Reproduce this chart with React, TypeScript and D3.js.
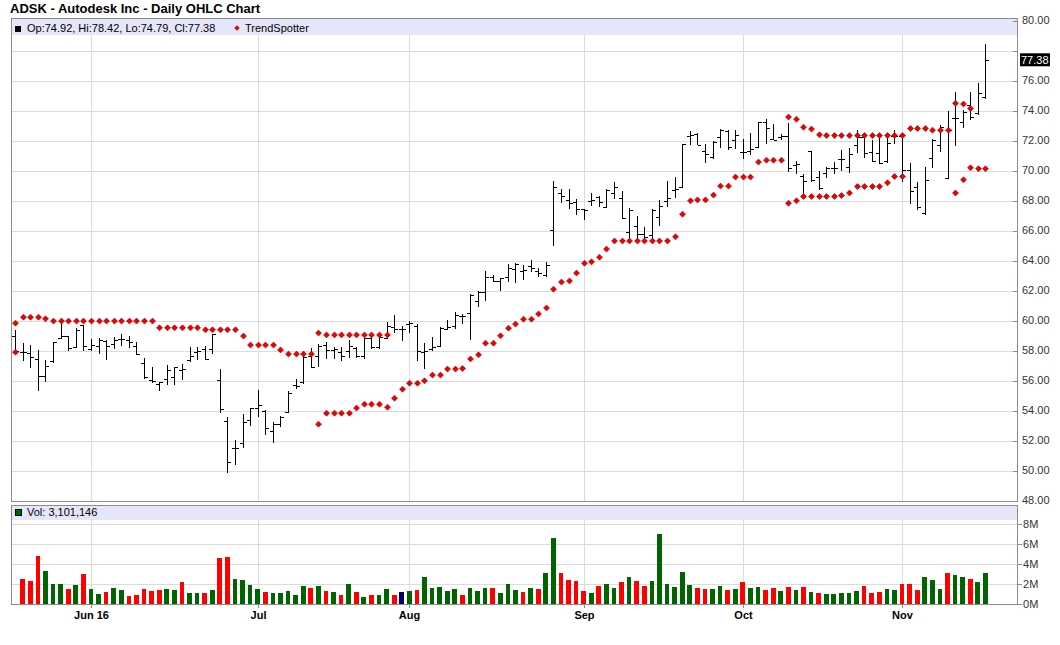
import * as d3 from "d3";

// ADSK daily bars, index 0 = first bar on the chart (mid May 2016)
const opens = [
  58.96, 57.93, 57.84, 57.44, 56.27, 57.27, 58.82, 58.96, 58.22, 59.67,
  58.07, 58.33, 58.6, 58.44, 58.78, 58.73, 58.33, 57.18, 56.02, 55.78,
  56.07, 56.22, 56.73, 57.4, 57.89, 58.07, 58.07, 56.04, 53.33, 51.49,
  51.84, 53.4, 54.16, 53.98, 52.6, 53.11, 53.89, 55.71, 55.89, 57.62,
  57.62, 58.4, 58.04, 57.89, 57.96, 58.18, 57.62, 58.82, 58.22, 58.84,
  59.56, 59.44, 59.78, 59.62, 57.89, 58.11, 58.33, 59.44, 59.6, 60.33,
  60.49, 61.33, 61.93, 62.93, 62.6, 62.93, 63.42, 63.33, 63.64, 63.27,
  63.04, 66.04, 68.49, 68.04, 67.87, 67.42, 68.0, 68.2, 67.56, 68.49,
  68.16, 65.93, 66.27, 65.78, 65.71, 66.93, 68.0, 68.71, 68.89, 72.31,
  72.42, 71.31, 70.93, 72.22, 72.64, 72.04, 71.2, 71.33, 71.6, 73.2,
  72.1, 72.22, 72.31, 70.38, 69.64, 71.27, 69.56, 69.83, 70.16, 70.79,
  70.23, 71.73, 72.24, 71.23, 71.17, 70.63, 72.29, 72.29, 70.05, 68.89,
  67.14, 70.83, 71.73, 69.49, 73.47, 73.2, 74.37, 73.81, 74.92,
];
const highs = [
  59.33, 58.44, 58.33, 58.0, 57.33, 58.56, 60.0, 58.96, 59.44, 59.67,
  58.73, 58.82, 58.67, 58.89, 59.04, 58.93, 58.56, 57.49, 56.89, 55.89,
  57.0, 56.89, 57.04, 58.22, 58.22, 58.29, 59.1, 56.71, 53.56, 52.0,
  53.71, 54.16, 55.31, 53.98, 53.18, 53.62, 55.27, 56.04, 57.6, 58.11,
  58.38, 58.51, 58.22, 58.18, 58.67, 58.18, 58.82, 58.89, 59.11, 59.84,
  60.33, 59.62, 59.93, 59.71, 58.44, 58.89, 59.56, 60.0, 60.55, 60.38,
  61.76, 61.93, 63.27, 62.98, 62.82, 63.71, 63.82, 63.64, 63.98, 63.49,
  63.87, 69.27, 68.71, 68.76, 68.04, 67.42, 68.49, 68.27, 68.76, 69.2,
  68.6, 67.49, 66.93, 66.2, 67.42, 68.0, 69.27, 69.56, 71.76, 72.6,
  72.49, 71.71, 71.93, 72.71, 72.64, 72.67, 72.09, 72.49, 73.2, 73.42,
  73.04, 72.38, 73.11, 70.6, 69.71, 71.27, 69.93, 70.23, 70.56, 71.35,
  71.46, 72.69, 72.35, 72.02, 72.31, 72.13, 72.69, 72.4, 70.45, 69.22,
  70.23, 72.06, 73.02, 73.96, 75.22, 74.03, 75.22, 75.78, 78.42,
];
const lows = [
  57.89, 57.33, 56.89, 55.33, 55.93, 57.22, 58.82, 58.0, 58.22, 58.0,
  58.0, 57.78, 57.4, 58.16, 58.33, 58.22, 57.71, 56.16, 55.84, 55.33,
  55.71, 55.71, 56.07, 57.27, 57.4, 57.4, 57.78, 53.89, 49.84, 50.4,
  51.56, 53.0, 53.62, 52.38, 51.89, 52.96, 53.84, 55.49, 55.78, 56.84,
  56.96, 57.44, 57.44, 57.33, 57.56, 57.56, 57.49, 58.11, 58.11, 58.84,
  59.18, 58.67, 59.22, 57.33, 56.82, 58.0, 58.29, 59.4, 59.45, 59.82,
  58.71, 60.93, 61.33, 62.6, 61.98, 62.6, 62.53, 62.71, 63.27, 62.93,
  62.93, 64.98, 67.87, 67.49, 67.04, 66.76, 67.64, 67.6, 67.56, 68.16,
  66.82, 65.27, 65.27, 65.3, 65.33, 66.31, 67.6, 68.22, 68.89, 71.76,
  71.71, 70.56, 70.82, 71.56, 71.42, 71.49, 70.82, 71.04, 71.6, 71.78,
  72.04, 72.04, 69.93, 69.78, 68.27, 69.27, 68.76, 69.56, 69.78, 70.0,
  69.9, 71.17, 70.9, 70.61, 70.45, 70.56, 71.79, 69.29, 67.81, 67.43,
  67.1, 70.23, 71.3, 69.45, 71.64, 72.87, 73.4, 73.76, 74.79,
];
const closes = [
  57.95, 57.89, 57.56, 56.27, 57.0, 58.56, 58.96, 58.16, 59.4, 58.33,
  58.4, 58.73, 58.33, 58.73, 58.76, 58.56, 57.78, 56.2, 55.98, 55.89,
  56.73, 56.89, 56.78, 57.62, 58.0, 57.44, 59.1, 54.1, 50.56, 51.49,
  53.22, 54.16, 54.38, 52.82, 53.11, 53.58, 55.18, 55.62, 57.56, 56.89,
  58.29, 58.04, 58.1, 57.62, 58.29, 57.62, 58.82, 58.22, 58.89, 59.62,
  59.44, 59.44, 59.84, 57.96, 58.0, 58.22, 59.49, 59.56, 60.4, 60.33,
  61.71, 61.87, 62.93, 62.64, 62.82, 63.49, 63.78, 63.38, 63.49, 63.16,
  63.69, 68.93, 68.27, 67.82, 67.42, 67.38, 68.04, 67.9, 68.71, 68.93,
  66.82, 67.38, 65.78, 65.6, 67.38, 67.64, 68.16, 68.78, 71.76, 72.38,
  71.71, 71.11, 71.93, 72.67, 71.6, 72.38, 71.2, 71.42, 73.2, 72.82,
  72.04, 72.29, 70.16, 70.44, 69.31, 69.38, 68.82, 70.18, 70.16, 70.79,
  71.12, 72.24, 71.17, 70.61, 70.5, 71.84, 72.29, 70.05, 68.66, 67.59,
  69.38, 72.06, 72.91, 72.69, 73.47, 73.92, 73.54, 75.19, 77.38,
];

// volume in millions of shares (first bar has none shown)
const volumes = [
  null, 2.53, 2.33, 4.83, 3.33, 2.03, 2.03, 1.53, 1.93, 3.03,
  1.53, 1.03, 1.23, 1.63, 1.43, 0.83, 0.93, 1.53, 1.33, 1.43,
  1.53, 1.43, 2.23, 1.13, 1.13, 1.13, 1.43, 4.63, 4.73, 2.53,
  2.43, 1.93, 1.53, 1.23, 1.13, 1.13, 1.33, 0.93, 1.83, 1.63,
  1.83, 1.33, 1.23, 0.93, 2.03, 1.23, 0.73, 0.93, 0.93, 1.53,
  0.93, 1.23, 1.33, 1.43, 2.73, 1.63, 1.73, 1.33, 1.53, 0.93,
  1.63, 1.33, 1.63, 1.63, 1.13, 2.03, 1.43, 1.23, 1.63, 1.53,
  3.13, 6.63, 3.13, 2.43, 2.33, 1.33, 1.13, 1.83, 2.03, 1.63,
  2.23, 2.73, 2.33, 1.83, 2.33, 7.03, 2.03, 1.73, 3.23, 1.93,
  1.63, 1.53, 1.53, 1.83, 1.43, 1.53, 2.23, 1.6, 1.7, 1.4,
  1.6, 1.3, 1.7, 1.4, 1.7, 1.2, 1.1, 1.0, 1.0, 1.1,
  1.1, 1.3, 1.83, 1.13, 1.23, 1.53, 1.43, 2.03, 2.03, 1.43,
  2.73, 2.43, 1.53, 3.13, 2.93, 2.73, 2.53, 2.23, 3.1,
];
// u = up day, d = down day, n = unchanged
const volDir = [
  "d", "d", "d", "d", "u", "u", "u", "d", "u", "d",
  "u", "u", "d", "u", "u", "d", "d", "d", "d", "d",
  "u", "u", "d", "u", "u", "d", "u", "d", "d", "u",
  "u", "u", "u", "d", "u", "u", "u", "u", "u", "d",
  "u", "d", "u", "d", "u", "d", "u", "d", "u", "u",
  "d", "n", "u", "d", "u", "u", "u", "u", "u", "d",
  "u", "u", "u", "d", "u", "u", "u", "d", "u", "d",
  "u", "u", "d", "d", "d", "d", "u", "d", "u", "u",
  "d", "u", "d", "d", "u", "u", "u", "u", "u", "u",
  "d", "d", "u", "u", "d", "u", "d", "u", "u", "d",
  "d", "u", "d", "u", "d", "u", "d", "u", "u", "u",
  "u", "u", "d", "d", "d", "u", "u", "d", "d", "d",
  "u", "u", "u", "d", "u", "u", "d", "u", "u",
];

// TrendSpotter markers (two rows can show at once)
const trendUpper = [
  59.82, 60.22, 60.22, 60.22, 60.11, 59.96, 59.96, 59.96, 59.96, 59.96,
  59.96, 59.96, 59.96, 59.96, 59.96, 59.96, 59.96, 59.96, 59.96, 59.51,
  59.51, 59.51, 59.51, 59.51, 59.51, 59.38, 59.38, 59.38, 59.38, 59.38,
  58.96, 58.36, 58.36, 58.36, 58.36, 58.04, 57.76, 57.76, 57.76, 57.76,
  59.16, 59.04, 59.04, 59.04, 59.04, 59.04, 59.04, 59.04, 59.04, 59.04,
  null, null, null, null, null, null, null, null, null, null,
  null, null, null, null, null, null, null, null, null, null,
  null, null, null, null, null, null, null, null, null, null,
  null, null, null, null, null, null, null, null, null, null,
  null, null, null, null, null, null, null, null, null, null,
  null, null, 73.56, 73.42, 72.89, 72.76, 72.38, 72.33, 72.33, 72.33,
  72.33, 72.33, 72.33, 72.33, 72.33, 72.33, 72.33, 72.33, 72.8, 72.8,
  72.8, 72.69, 72.69, 72.69, 74.48, 74.43, 74.14, null, null,
];
const trendLower = [
  57.89, null, null, null, null, null, null, null, null, null,
  null, null, null, null, null, null, null, null, null, null,
  null, null, null, null, null, null, null, null, null, null,
  null, null, null, null, null, null, null, null, null, null,
  53.09, 53.82, 53.82, 53.82, 53.82, 54.16, 54.42, 54.42, 54.42, 54.22,
  54.82, 55.42, 55.82, 55.82, 55.98, 56.36, 56.36, 56.76, 56.76, 56.8,
  57.44, 57.71, 58.49, 58.49, 58.98, 59.49, 59.76, 60.09, 60.09, 60.44,
  60.84, 62.09, 62.56, 62.64, 63.16, 63.82, 63.91, 64.22, 64.76, 65.3,
  65.3, 65.3, 65.3, 65.3, 65.3, 65.3, 65.3, 65.58, 67.09, 67.98,
  68.04, 68.04, 68.36, 68.96, 68.96, 69.56, 69.56, 69.56, 70.56, 70.69,
  70.69, 70.69, 67.82, 67.98, 68.27, 68.27, 68.27, 68.27, 68.27, 68.33,
  68.5, 68.93, 68.93, 68.93, 68.93, 69.18, 69.6, 69.6, null, null,
  null, null, null, null, 68.5, 69.38, 70.18, 70.12, 70.12,
];

const monthLabels = ["Jun 16", "Jul", "Aug", "Sep", "Oct", "Nov"];
const monthStart = [10, 32, 52, 75, 96, 117];
const priceTicks = [48, 50, 52, 54, 56, 58, 60, 62, 64, 66, 68, 70, 72, 74, 76, 78, 80];
const volTicks = [0, 2, 4, 6, 8];

const FONT = "'Liberation Sans', Arial, Helvetica, sans-serif";
const GRID = "#dcdcdc";
const BORDER = "#8c8c8c";
const BAND = "#e6e6fa";
const VOL_COLORS: Record<string, string> = { u: "#006400", d: "#ff0000", n: "#000066" };

export default function App() {
  const width = 1060;
  const height = 645;
  const left = 11;
  const right = 1018;
  const priceTop = 18;
  const priceBottom = 501;
  const volTop = 505;
  const volBottom = 604;

  const x = d3.scaleLinear().domain([-0.55, 132.3]).range([left, right]);
  const y = d3.scaleLinear().domain([48, 80]).range([500.5, 20.5]);
  const vy = d3.scaleLinear().domain([0, 8]).range([volBottom, 524]);
  const px = (i: number) => Math.round(x(i)) + 0.5;
  const fmt = d3.format(".2f");
  const n = closes.length;
  const last = n - 1;
  const barW = 4.7;
  const lastY = y(closes[last]);

  const diamond = "M0,-3L3,0L0,3L-3,0Z";
  const trendPts: { i: number; v: number }[] = [];
  trendUpper.forEach((v, i) => v != null && trendPts.push({ i, v }));
  trendLower.forEach((v, i) => v != null && trendPts.push({ i, v }));

  return (
    <svg
      width={width}
      height={height}
      style={{ position: "absolute", left: 0, top: 0, background: "#fff" }}
      fontFamily={FONT}
    >
      <text x={10} y={13} fontSize={13} fontWeight="bold" fill="#000">
        ADSK - Autodesk Inc - Daily OHLC Chart
      </text>

      {/* grid */}
      <g shapeRendering="crispEdges">
        {priceTicks.map((t) => (
          <line key={t} x1={left} x2={right} y1={Math.round(y(t)) + 0.5} y2={Math.round(y(t)) + 0.5} stroke={GRID} />
        ))}
        {monthStart.map((m) => (
          <line key={m} x1={px(m)} x2={px(m)} y1={priceTop} y2={priceBottom} stroke={GRID} />
        ))}
        {volTicks.map((t) => (
          <line key={t} x1={left} x2={right} y1={Math.round(vy(t)) + 0.5} y2={Math.round(vy(t)) + 0.5} stroke={GRID} />
        ))}
        {monthStart.map((m) => (
          <line key={"v" + m} x1={px(m)} x2={px(m)} y1={volTop} y2={volBottom + 4} stroke={GRID} />
        ))}
      </g>

      {/* legend bands */}
      <rect x={left + 0.5} y={priceTop + 0.5} width={right - left - 1} height={16.5} fill={BAND} />
      <rect x={left + 0.5} y={volTop + 0.5} width={right - left - 1} height={14.5} fill={BAND} />

      {/* OHLC bars */}
      <g stroke="#000" strokeWidth={1} shapeRendering="crispEdges">
        {closes.map((c, i) => {
          const cx = px(i);
          return (
            <g key={i}>
              <line x1={cx} x2={cx} y1={y(highs[i]) - 0.5} y2={y(lows[i]) + 0.5} />
              <line x1={cx - 3.5} x2={cx} y1={Math.round(y(opens[i])) + 0.5} y2={Math.round(y(opens[i])) + 0.5} />
              <line x1={cx} x2={cx + 3.5} y1={Math.round(y(c)) + 0.5} y2={Math.round(y(c)) + 0.5} />
            </g>
          );
        })}
      </g>

      {/* TrendSpotter */}
      <g>
        {trendPts.map((p, k) => (
          <path
            key={k}
            d={diamond}
            transform={`translate(${px(p.i)},${y(p.v)})`}
            fill="#ee0000"
            stroke="#990000"
            strokeWidth={0.6}
          />
        ))}
      </g>

      {/* volume bars */}
      <g shapeRendering="crispEdges">
        {volumes.map((v, i) =>
          v == null ? null : (
            <rect
              key={i}
              x={x(i) - barW / 2}
              y={vy(v)}
              width={barW}
              height={vy(0) - vy(v)}
              fill={VOL_COLORS[volDir[i]]}
            />
          )
        )}
      </g>

      {/* panel borders */}
      <g fill="none" stroke={BORDER} shapeRendering="crispEdges">
        <rect x={left + 0.5} y={priceTop + 0.5} width={right - left - 1} height={priceBottom - priceTop} />
        <rect x={left + 0.5} y={volTop + 0.5} width={right - left - 1} height={volBottom - volTop} />
      </g>

      {/* price axis; labels under the last-price box are hidden */}
      <g fontSize={11} fill="#333">
        {priceTicks.map((t) => (
          <g key={t}>
            <line x1={right - 5} x2={right} y1={Math.round(y(t)) + 0.5} y2={Math.round(y(t)) + 0.5} stroke={BORDER} shapeRendering="crispEdges" />
            {Math.abs(y(t) - lastY) > 12 && (
              <text x={right + 4} y={y(t)} dy="0.35em">
                {fmt(t)}
              </text>
            )}
          </g>
        ))}
      </g>
      <rect x={right + 2} y={lastY - 6.5} width={30} height={13} fill="#000" />
      <text x={right + 3} y={lastY} dy="0.35em" fontSize={11} fill="#fff">
        {fmt(closes[last])}
      </text>

      {/* volume axis */}
      <g fontSize={11} fill="#333">
        {volTicks.map((t) => (
          <g key={t}>
            <line x1={right} x2={right + 4} y1={Math.round(vy(t)) + 0.5} y2={Math.round(vy(t)) + 0.5} stroke={BORDER} shapeRendering="crispEdges" />
            <text x={right + 5} y={vy(t)} dy="0.35em">
              {t}M
            </text>
          </g>
        ))}
      </g>

      {/* month axis */}
      <g fontSize={11} fontWeight="bold" fill="#000" textAnchor="middle">
        {monthStart.map((m, k) => (
          <g key={m}>
            <line x1={px(m)} x2={px(m)} y1={volBottom} y2={volBottom + 4} stroke={BORDER} shapeRendering="crispEdges" />
            <text x={px(m)} y={619}>
              {monthLabels[k]}
            </text>
          </g>
        ))}
      </g>

      {/* legends */}
      <rect x={15} y={26} width={6} height={6} fill="#000" />
      <text x={27} y={31.5} fontSize={11} fill="#000">
        {`Op:${fmt(opens[last])}, Hi:${fmt(highs[last])}, Lo:${fmt(lows[last])}, Cl:${fmt(closes[last])}`}
      </text>
      <path d={diamond} transform="translate(237,28) scale(0.8)" fill="#ee0000" stroke="#990000" strokeWidth={0.6} />
      <text x={245} y={31.5} fontSize={11} fill="#000">
        TrendSpotter
      </text>
      <rect x={15.5} y={509.5} width={6} height={6} fill="#006400" stroke="#000" />
      <text x={27} y={516} fontSize={11} fill="#000">
        {`Vol: ${d3.format(",")(3101146)}`}
      </text>
    </svg>
  );
}
